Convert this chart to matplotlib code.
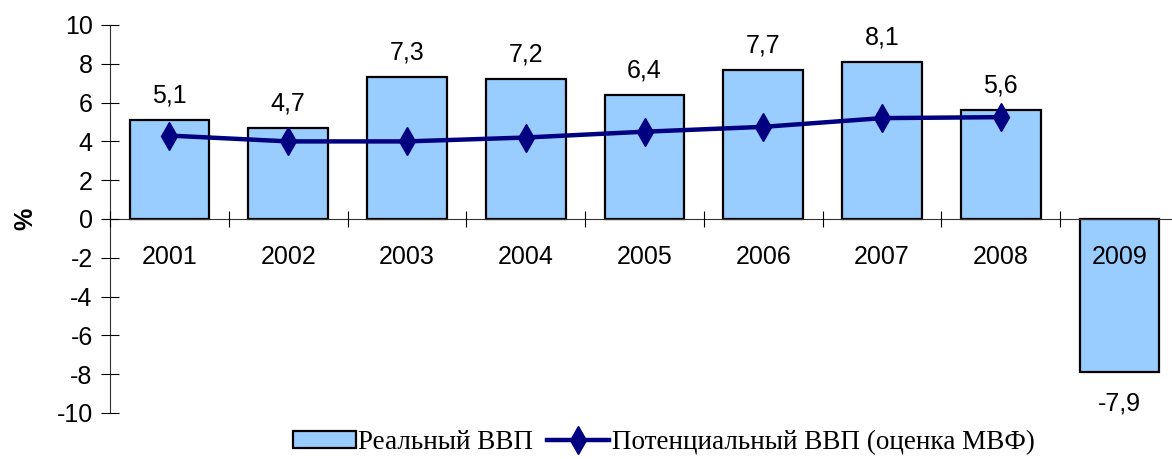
import numpy as np
import matplotlib
matplotlib.use("Agg")
import matplotlib.pyplot as plt
from matplotlib.patches import Patch
from matplotlib.lines import Line2D

years = ["2001", "2002", "2003", "2004", "2005", "2006", "2007", "2008", "2009"]
real_gdp = [5.1, 4.7, 7.3, 7.2, 6.4, 7.7, 8.1, 5.6, -7.9]
potential_gdp = [4.3, 4.0, 4.0, 4.2, 4.5, 4.75, 5.2, 5.25, np.nan]
yticks = [10, 8, 6, 4, 2, 0, -2, -4, -6, -8, -10]

bar_color = "#99CCFF"
line_color = "#000080"

plt.rcParams["font.family"] = ["Liberation Sans", "DejaVu Sans"]

fig = plt.figure(figsize=(11.72, 4.59), dpi=100)
ax = fig.add_axes([110 / 1172, 46 / 459, 1069 / 1172, 388 / 459])

# spine setup first, set_position resets tick properties
for s in ["top", "right"]:
    ax.spines[s].set_visible(False)
ax.spines["bottom"].set_position(("data", 0))
for s in ["bottom", "left"]:
    ax.spines[s].set_linewidth(0.8)
    ax.spines[s].set_color("#333333")

x = np.arange(len(years))
ax.bar(x, real_gdp, width=0.67, color=bar_color, edgecolor="black",
       linewidth=1.6, zorder=1)
ax.plot(x, potential_gdp, color=line_color, lw=3.2, marker="d", ms=14,
        zorder=3)

# value labels, comma as decimal separator
for xi, v in zip(x, real_gdp):
    txt = f"{v:.1f}".replace(".", ",")
    if v >= 0:
        ax.annotate(txt, (xi, v), xytext=(0, 9), textcoords="offset points",
                    ha="center", va="bottom", fontsize=18)
    else:
        ax.annotate(txt, (xi, v), xytext=(0, -14), textcoords="offset points",
                    ha="center", va="top", fontsize=18)

ax.set_xlim(-0.5, len(years) - 0.5)
ax.set_ylim(-10, 10)
ax.set_yticks(yticks)
ax.set_yticklabels([str(t) for t in yticks])
ax.tick_params(axis="y", direction="inout", length=13, width=0.8, pad=6,
               labelsize=18)

ax.set_xticks(x)
ax.set_xticklabels(years)
ax.tick_params(axis="x", which="major", length=0, pad=19, labelsize=18)
ax.set_xticks(np.arange(len(years)) - 0.5, minor=True)
ax.tick_params(axis="x", which="minor", direction="inout", length=11, width=0.8)
ax.set_axisbelow(False)
for lbl in ax.get_xticklabels():
    lbl.set_zorder(5)

ax.set_ylabel("%", fontsize=18, fontweight="bold", labelpad=14)

handles = [Patch(facecolor=bar_color, edgecolor="black", linewidth=1.6),
           Line2D([], [], color=line_color, lw=3.2, marker="d", ms=14)]
labels = ["Реальный ВВП", "Потенциальный ВВП (оценка МВФ)"]
fig.legend(handles, labels, loc="lower center", bbox_to_anchor=(664 / 1172, -0.045),
           ncol=2, frameon=False, handlelength=2.3, handleheight=0.6,
           handletextpad=0.1, columnspacing=0.5,
           prop={"family": "Liberation Serif", "size": 19.5})

fig.savefig("out.png", dpi=100)
